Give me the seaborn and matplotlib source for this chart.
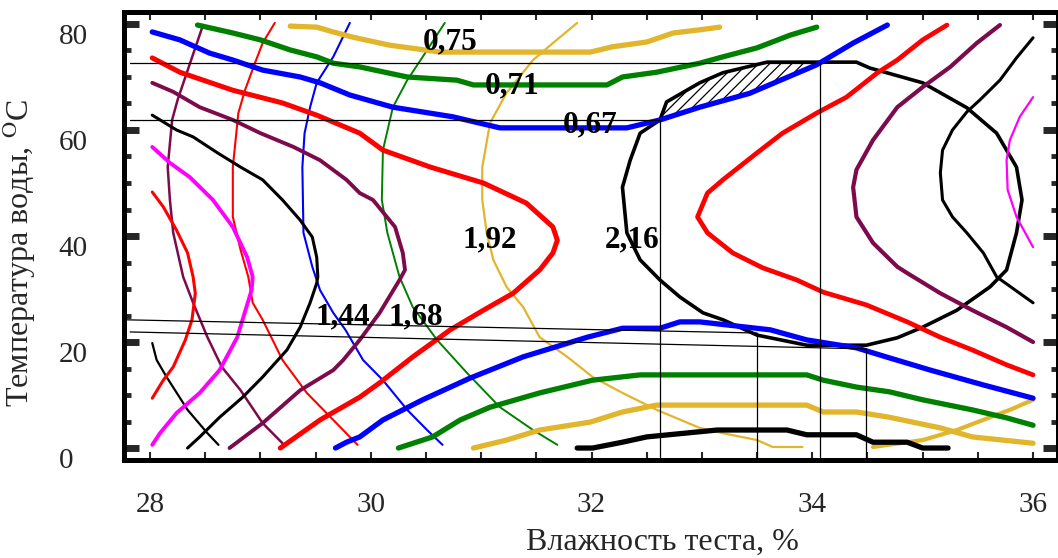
import numpy as np
import seaborn as sns
import matplotlib.pyplot as plt
from matplotlib.transforms import ScaledTranslation

# ---- values: x = dough moisture, %, y = water temperature, C ----

# thin, nearly vertical contours
black_v_x = [28.02, 28.06, 28.15, 28.34, 28.52, 28.62]
black_v_y = [19.8, 16.6, 13.4, 7.2, 2.8, 0.6]
purple_v_x = [28.48, 28.32, 28.25, 28.20, 28.16, 28.18, 28.21, 28.30, 28.39, 28.52, 28.65, 28.82, 29.02, 29.20]
purple_v_y = [79.8, 70.0, 65.7, 61.9, 53.0, 46.8, 40.6, 32.3, 27.4, 20.9, 15.3, 10.9, 4.7, 0.9]
red_v_x = [29.13, 29.02, 28.95, 28.86, 28.80, 28.75, 28.75, 28.82, 28.89, 28.93, 29.02, 29.20, 29.42, 29.66, 29.88]
red_v_y = [80.2, 76.4, 72.6, 67.5, 63.2, 53.0, 43.6, 37.4, 32.3, 27.4, 24.2, 16.6, 10.4, 5.3, 0.6]
blue_v_x = [29.81, 29.66, 29.51, 29.45, 29.40, 29.38, 29.39, 29.47, 29.54, 29.66, 29.77, 29.93, 30.11, 30.33, 30.51, 30.65]
blue_v_y = [80.2, 73.8, 68.9, 64.3, 59.4, 53.0, 40.6, 34.2, 29.8, 25.5, 22.3, 16.6, 12.8, 7.2, 3.4, 0.6]
green_v_x = [30.67, 30.47, 30.33, 30.20, 30.11, 30.10, 30.15, 30.26, 30.38, 30.60, 30.87, 31.17, 31.47, 31.69]
green_v_y = [80.2, 73.8, 69.4, 64.3, 56.2, 46.8, 40.6, 32.3, 26.6, 20.4, 14.2, 7.7, 3.4, 0.6]
yellow_v_x = [31.87, 31.65, 31.47, 31.23, 31.08, 31.01, 31.01, 31.05, 31.11, 31.23, 31.38, 31.53, 31.78,
              32.01, 32.28, 32.59, 32.98, 33.19, 33.50, 33.64, 33.91]
yellow_v_y = [80.2, 76.4, 73.2, 67.0, 61.3, 53.0, 46.8, 40.6, 35.5, 30.4, 26.6, 20.9, 17.2,
              13.4, 10.4, 7.2, 3.8, 2.8, 1.5, 0.2, 0.2]
yellow_v2_x = [34.55, 35.00, 35.31, 35.61, 35.79, 36.00]
yellow_v2_y = [0.2, 1.5, 3.4, 5.8, 7.2, 9.1]

# ">" shaped contours on the left
red_g1_x = [28.02, 28.12, 28.24, 28.34, 28.39, 28.41, 28.38, 28.32, 28.21, 28.12, 28.02]
red_g1_y = [48.3, 45.5, 41.1, 36.8, 32.3, 29.2, 24.2, 20.4, 15.3, 12.8, 9.4]
magenta_g_x = [28.02, 28.18, 28.36, 28.57, 28.75, 28.88, 28.93, 28.92, 28.79, 28.63, 28.45, 28.24, 28.09, 28.02]
magenta_g_y = [56.8, 53.8, 51.1, 46.8, 41.7, 36.0, 32.3, 29.8, 20.9, 14.7, 10.4, 6.6, 2.8, 0.6]
black_g_x = [28.02, 28.24, 28.39, 28.61, 28.82, 29.02, 29.20, 29.36, 29.47, 29.51, 29.52, 29.51, 29.45,
             29.36, 29.24, 29.02, 28.84, 28.63, 28.45, 28.34]
black_g_y = [62.8, 60.0, 58.7, 55.7, 53.0, 50.6, 46.8, 43.0, 39.8, 36.0, 32.3, 31.1, 27.4,
             22.8, 18.5, 13.4, 9.6, 5.8, 2.1, 0.0]
purple_g_x = [28.02, 28.21, 28.45, 28.75, 29.00, 29.30, 29.54, 29.78, 29.90, 30.02, 30.22, 30.29, 30.31,
              30.26, 30.08, 29.90, 29.75, 29.66, 29.36, 29.02, 28.72]
purple_g_y = [68.9, 67.2, 64.3, 61.9, 59.4, 56.8, 54.3, 50.6, 48.1, 46.8, 41.7, 36.8, 33.6,
              31.7, 25.5, 20.4, 16.6, 14.7, 10.9, 4.7, 0.0]
red_g_x = [28.02, 28.27, 28.75, 29.20, 29.51, 29.90, 30.11, 30.54, 31.02, 31.41, 31.65, 31.69, 31.65,
           31.53, 31.29, 31.02, 30.72, 30.38, 30.08, 29.90, 29.54, 29.18]
red_g_y = [73.6, 70.9, 67.5, 65.1, 62.8, 59.4, 56.2, 53.0, 50.0, 46.2, 41.7, 39.2, 36.8,
           33.6, 29.2, 26.0, 22.3, 17.2, 12.3, 9.6, 5.3, 0.0]

# closed 2,16 contour
ell_x = [32.62, 32.68, 32.98, 33.19, 33.59, 34.40, 34.52, 35.00, 35.40, 35.67, 35.85, 35.90, 35.85, 35.76,
         35.61, 35.31, 35.00, 34.77, 34.49, 33.95, 33.50, 33.19, 33.01, 32.80, 32.62, 32.44, 32.32, 32.28,
         32.35, 32.44, 32.62]
ell_y = [61.9, 65.3, 68.9, 70.8, 72.8, 72.8, 71.7, 68.9, 64.2, 59.4, 53.0, 46.8, 40.6, 33.6,
         30.4, 26.0, 22.8, 20.8, 19.4, 19.4, 21.3, 24.2, 25.5, 28.5, 31.7, 35.5, 40.6, 49.2,
         54.3, 59.4, 61.9]

# "(" shaped contours on the right
red_r_x = [35.22, 35.00, 34.77, 34.59, 34.31, 34.04, 33.73, 33.50, 33.19, 33.05, 32.96, 33.05, 33.28,
           33.55, 33.86, 34.10, 34.49, 34.86, 35.16, 35.45, 35.76, 36.00]
red_r_y = [79.8, 77.0, 73.2, 70.8, 66.2, 63.2, 59.4, 55.7, 50.6, 48.1, 43.6, 40.6, 36.8,
           34.0, 31.7, 29.4, 27.0, 23.8, 20.9, 18.5, 15.7, 13.8]
purple_r_x = [35.70, 35.49, 35.25, 35.00, 34.77, 34.55, 34.40, 34.37, 34.40, 34.55, 34.77, 34.86, 35.16,
              35.45, 35.76, 36.00]
purple_r_y = [79.8, 76.4, 71.9, 68.1, 64.3, 58.1, 52.5, 49.2, 43.6, 38.7, 34.2, 33.0, 29.2,
              26.0, 22.8, 20.0]
black_r_x = [36.00, 35.85, 35.70, 35.52, 35.40, 35.27, 35.18, 35.16, 35.18, 35.27, 35.40, 35.55, 35.67, 36.00]
black_r_y = [77.4, 73.6, 69.4, 65.7, 63.4, 60.0, 56.2, 51.9, 46.8, 43.6, 40.6, 36.8, 32.3, 27.4]
magenta_r_x = [36.00, 35.88, 35.79, 35.76, 35.77, 35.85, 36.00]
magenta_r_y = [66.2, 62.5, 58.1, 54.3, 48.7, 43.6, 37.9]

# nearly horizontal contours (0,67 / 0,71 / 0,75 on top)
blue_top_x = [28.02, 28.27, 28.54, 28.75, 29.02, 29.36, 29.54, 29.81, 30.20, 30.74, 31.17, 32.32, 32.62,
              32.98, 33.43, 34.04, 34.37, 34.68]
blue_top_y = [78.5, 77.0, 74.5, 73.2, 71.3, 70.0, 68.9, 66.6, 64.3, 62.5, 60.4, 60.4, 61.9,
              64.3, 66.9, 72.3, 76.4, 79.8]
green_top_x = [28.43, 28.75, 29.00, 29.27, 29.51, 29.66, 29.90, 30.33, 30.78, 30.93, 32.14, 32.28, 32.59,
               32.98, 33.19, 33.50, 33.80, 34.04]
green_top_y = [79.8, 78.3, 77.0, 75.1, 73.8, 72.6, 71.9, 70.0, 69.4, 68.5, 68.5, 70.0, 70.9,
               72.6, 73.8, 75.5, 77.9, 79.4]
yellow_top_x = [29.27, 29.51, 29.66, 29.84, 30.17, 30.63, 31.99, 32.19, 32.50, 32.74, 32.98, 33.16]
yellow_top_y = [79.6, 79.4, 78.5, 77.5, 76.0, 74.7, 74.7, 75.7, 76.6, 78.3, 78.9, 79.4]
blue_bot_x = [29.68, 29.78, 29.90, 30.11, 30.47, 30.90, 31.38, 31.96, 32.28, 32.62, 32.80, 32.98, 33.62,
              33.95, 34.40, 34.70, 35.07, 35.55, 36.00]
blue_bot_y = [0.0, 1.1, 2.1, 5.3, 9.1, 13.2, 17.2, 20.9, 22.6, 22.6, 23.8, 23.8, 22.3,
              20.4, 18.9, 17.0, 14.7, 11.9, 9.4]
green_bot_x = [30.25, 30.56, 30.81, 31.08, 31.53, 32.01, 32.44, 33.95, 34.10, 34.40, 34.70, 35.00, 35.45,
               35.76, 36.00]
green_bot_y = [0.0, 2.1, 5.3, 7.7, 10.4, 12.8, 13.8, 13.8, 12.8, 11.5, 10.6, 9.1, 7.2, 5.7, 4.3]
yellow_bot_x = [30.93, 31.23, 31.53, 31.99, 32.28, 32.59, 33.95, 34.10, 34.40, 34.70, 35.16, 35.45, 36.00]
yellow_bot_y = [0.0, 1.5, 3.4, 4.9, 6.8, 8.1, 8.1, 6.8, 6.8, 5.8, 3.8, 2.1, 0.9]
black_bot_x = [31.87, 32.01, 32.28, 32.50, 33.14, 33.77, 33.95, 34.40, 34.55, 34.86, 35.00, 35.23]
black_bot_y = [0.0, 0.0, 1.1, 2.1, 3.4, 3.4, 2.5, 2.5, 1.1, 1.1, 0.0, 0.0]

# level labels
label_text = ['0,75', '0,71', '0,67', '1,92', '2,16', '1,44', '1,68']
label_x = [30.72, 31.28, 31.99, 31.08, 32.37, 29.75, 30.41]
label_y = [76.6, 68.3, 60.9, 39.2, 39.2, 24.7, 24.7]

# thin construction lines
hline_y = [72.6, 61.9]
hline_x0 = [27.82, 27.82]
hline_x1 = [34.07, 32.62]
vline_x = [32.62, 34.07, 33.50, 34.49]
vline_top = [61.9, 72.6, 21.7, 18.7]
slant_x = [[27.76, 33.50], [27.82, 34.49]]
slant_y = [[24.2, 21.7], [21.9, 18.7]]

x_ticks = [28, 30, 32, 34, 36]
y_ticks = [0, 20, 40, 60, 80]

RED = '#ff0000'
BLUE = '#0000ff'
GREEN = '#008000'
YEL = '#e1b52c'
PUR = '#7d0a4b'
MAG = '#ff00ff'

sns.set_style('white')
plt.rcParams['font.family'] = ['Liberation Serif', 'DejaVu Serif']
plt.rcParams['mathtext.fontset'] = 'stix'
plt.rcParams['hatch.linewidth'] = 0.9

fig = plt.figure(figsize=(10.58, 5.58), dpi=100)
ax = fig.add_axes([0.1172, 0.1756, 0.8828, 0.8029])

curves = [
    (black_v_x, black_v_y, 'black', 1.6),
    (purple_v_x, purple_v_y, PUR, 1.8),
    (red_v_x, red_v_y, RED, 1.5),
    (blue_v_x, blue_v_y, BLUE, 1.5),
    (green_v_x, green_v_y, GREEN, 1.4),
    (yellow_v_x, yellow_v_y, YEL, 1.6),
    (yellow_v2_x, yellow_v2_y, YEL, 3.0),
    (red_g1_x, red_g1_y, RED, 2.2),
    (magenta_g_x, magenta_g_y, MAG, 2.8),
    (black_g_x, black_g_y, 'black', 2.2),
    (purple_g_x, purple_g_y, PUR, 2.8),
    (red_g_x, red_g_y, RED, 3.6),
    (ell_x, ell_y, 'black', 2.6),
    (red_r_x, red_r_y, RED, 3.4),
    (purple_r_x, purple_r_y, PUR, 3.0),
    (black_r_x, black_r_y, 'black', 2.2),
    (magenta_r_x, magenta_r_y, MAG, 1.6),
    (blue_top_x, blue_top_y, BLUE, 3.8),
    (green_top_x, green_top_y, GREEN, 3.8),
    (yellow_top_x, yellow_top_y, YEL, 3.8),
    (blue_bot_x, blue_bot_y, BLUE, 3.8),
    (green_bot_x, green_bot_y, GREEN, 3.8),
    (yellow_bot_x, yellow_bot_y, YEL, 3.8),
    (black_bot_x, black_bot_y, 'black', 3.8),
]
for cx, cy, col, lw in curves:
    sns.lineplot(x=cx, y=cy, sort=False, estimator=None, color=col, linewidth=lw, ax=ax)

# construction lines
for y0, xa, xb in zip(hline_y, hline_x0, hline_x1):
    ax.plot([xa, xb], [y0, y0], color='black', lw=0.9)
for xv, yt in zip(vline_x, vline_top):
    ax.plot([xv, xv], [-3, yt], color='black', lw=0.9)
for sx, sy in zip(slant_x, slant_y):
    ax.plot(sx, sy, color='black', lw=0.9)

# hatched area between the 0,67 line and the top of the 2,16 contour
xs = np.linspace(vline_x[0], vline_x[1], 60)
y_low = np.interp(xs, blue_top_x, blue_top_y)
y_up = np.interp(xs, ell_x[:6], ell_y[:6])
ax.fill_between(xs, y_low, y_up, where=y_up > y_low, facecolor='none',
                edgecolor='black', hatch='///', linewidth=0)

for t, tx, ty in zip(label_text, label_x, label_y):
    ax.text(tx, ty, t, ha='center', va='center', fontsize=22.5, fontweight='bold', color='black')

ax.set_xlim(27.764, 36.226)
ax.set_ylim(-2.26, 82.26)
ax.set_xticks(x_ticks)
ax.set_xticks(np.arange(28, 36.01, 0.5), minor=True)
ax.set_yticks(y_ticks)
ax.set_yticks(np.arange(0, 80.1, 5), minor=True)

ax.tick_params(axis='x', which='both', direction='in', top=True, bottom=True,
               length=6, width=1.5, labelsize=21, pad=23)
ax.tick_params(axis='y', which='major', direction='in', left=True, right=True,
               length=11, width=5, labelsize=21, pad=47)
ax.tick_params(axis='y', which='minor', direction='in', left=True, right=True,
               length=5, width=3.5)
for lab in ax.get_yticklabels():
    lab.set_horizontalalignment('left')
    lab.set_transform(lab.get_transform() + ScaledTranslation(0, -0.10, fig.dpi_scale_trans))

for sp in ax.spines.values():
    sp.set_linewidth(3.6)
    sp.set_color('black')

ax.set_xlabel('Влажность теста, %', fontsize=23)
ax.xaxis.set_label_coords(0.577, -0.152)
ax.set_ylabel('Температура воды, $^{\\mathrm{O}}$C', fontsize=23)
ax.yaxis.set_label_coords(-0.092, 0.462)

fig.savefig('out.png', dpi=100)
